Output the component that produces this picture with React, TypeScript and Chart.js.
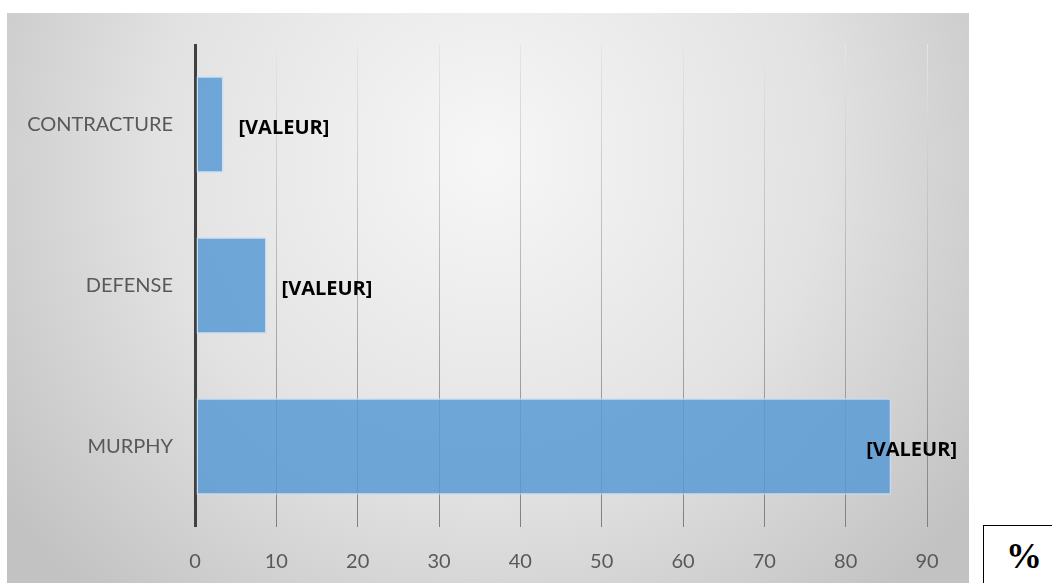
import React, { useEffect, useRef } from "react";
import { Chart, registerables } from "chart.js";

Chart.register(...registerables);

const categories = ["CONTRACTURE", "DEFENSE", "MURPHY"];
const values = [3.5, 8.8, 85.6];
const valueLabels = ["[VALEUR]", "[VALEUR]", "[VALEUR]"];
const xTicks = [0, 10, 20, 30, 40, 50, 60, 70, 80, 90];
const unitLabel = "%";

const FONT = "Lato, 'Open Sans', sans-serif";
const BOLD_FONT = "'Open Sans', 'Noto Sans', sans-serif";

// Soft radial backdrop behind the whole chart
const backdrop = {
  id: "backdrop",
  beforeDraw(chart: any) {
    const { ctx, width, height } = chart;
    ctx.save();
    const g = ctx.createRadialGradient(width * 0.5, height * 0.25, 10, width * 0.5, height * 0.25, width * 0.62);
    g.addColorStop(0, "#f6f6f6");
    g.addColorStop(0.55, "#e2e2e2");
    g.addColorStop(1, "#c2c2c2");
    ctx.fillStyle = g;
    ctx.fillRect(0, 0, width, height);
    ctx.restore();
  },
};

// Bold value labels placed just past the end of each bar
const valueTags = {
  id: "valueTags",
  afterDatasetsDraw(chart: any) {
    const { ctx, width } = chart;
    const meta = chart.getDatasetMeta(0);
    ctx.save();
    ctx.font = `bold 20px ${BOLD_FONT}`;
    ctx.fillStyle = "#000000";
    ctx.textBaseline = "middle";
    ctx.textAlign = "left";
    meta.data.forEach((bar: any, i: number) => {
      const text = valueLabels[i];
      const w = ctx.measureText(text).width;
      const x = Math.min(bar.x + 15, width - 12 - w);
      ctx.fillText(text, x, bar.y + 4);
    });
    ctx.restore();
  },
};

export default function App() {
  const canvasRef = useRef<HTMLCanvasElement | null>(null);

  useEffect(() => {
    document.body.style.margin = "0";
    const canvas = canvasRef.current;
    if (!canvas) return;
    const chart = new Chart(canvas, {
      type: "bar",
      data: {
        labels: categories,
        datasets: [
          {
            data: values,
            backgroundColor: "rgba(91, 155, 213, 0.86)",
            borderColor: "rgba(200, 222, 245, 0.9)",
            borderWidth: 1.5,
            borderSkipped: false,
            barPercentage: 0.6,
            categoryPercentage: 1,
          },
        ],
      },
      options: {
        indexAxis: "y",
        animation: false,
        responsive: false,
        maintainAspectRatio: false,
        layout: { padding: { top: 31, right: 42, left: 0, bottom: 0 } },
        plugins: {
          legend: { display: false },
          tooltip: { enabled: false },
        },
        scales: {
          x: {
            type: "linear",
            min: 0,
            max: 90,
            afterBuildTicks(scale: any) {
              scale.ticks = xTicks.map((v) => ({ value: v }));
            },
            afterFit(scale: any) {
              scale.height = 56;
            },
            border: { display: false },
            grid: {
              drawTicks: false,
              lineWidth: (c: any) => (c.index === 0 ? 3 : 1),
              color: (c: any) => {
                if (c.index === 0) return "#404040";
                const area = c.chart.chartArea;
                if (!area) return "#bbbbbb";
                const g = c.chart.ctx.createLinearGradient(0, area.top, 0, area.bottom);
                g.addColorStop(0, "#e6e6e6");
                g.addColorStop(1, "#808080");
                return g;
              },
            },
            ticks: {
              color: "#595959",
              font: { family: FONT, size: 20 },
              padding: 23,
            },
          },
          y: {
            afterFit(scale: any) {
              scale.width = 188;
              scale.paddingTop = 0;
              scale.paddingBottom = 0;
            },
            border: { display: false },
            grid: { display: false, drawTicks: false },
            ticks: {
              color: "#595959",
              font: { family: FONT, size: 20 },
              padding: 22,
            },
          },
        },
      },
      plugins: [backdrop, valueTags],
    });
    return () => chart.destroy();
  }, []);

  return (
    <div
      style={{
        position: "fixed",
        left: 0,
        top: 0,
        width: 1052,
        height: 583,
        background: "#ffffff",
        overflow: "hidden",
      }}
    >
      <div
        style={{
          position: "absolute",
          left: 7,
          top: 13,
          width: 962,
          height: 570,
          borderTop: "1px solid #bdbdbd",
          boxSizing: "border-box",
        }}
      >
        <canvas ref={canvasRef} width={962} height={570} style={{ display: "block", position: "absolute", left: 0, top: -1 }} />
      </div>
      <div
        style={{
          position: "absolute",
          left: 983,
          top: 525,
          width: 90,
          height: 70,
          border: "1px solid #000000",
          boxSizing: "border-box",
          fontFamily: "'Liberation Serif', 'DejaVu Serif', serif",
          fontWeight: "bold",
          fontSize: 36,
          lineHeight: "60px",
          paddingLeft: 22,
          color: "#000000",
        }}
      >
        {unitLabel}
      </div>
    </div>
  );
}
